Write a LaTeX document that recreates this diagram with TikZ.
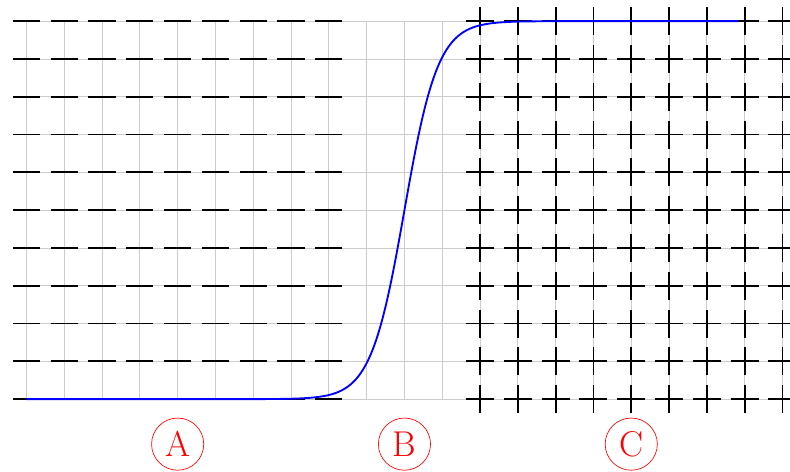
\documentclass[tikz,border=0pt]{standalone}
\usetikzlibrary{positioning}
\tikzset{
  markstroke/.style={black, line width=1.4pt},
  zonelabel/.style={circle, draw=red, text=red, line width=0.5pt, minimum size=1.38cm, inner sep=0pt, font=\fontsize{27}{30}\selectfont}
}
\begin{document}
\begin{tikzpicture}
  \useasboundingbox (-0.70,-1.91) rectangle (20.20,10.56);
  % background grid
  \draw[gray!40, line width=0.6pt] (0,0) grid (20,10);
  % minus marks (left zone)
  \foreach \x in {0,...,8}
    \foreach \y in {0,...,10}
      \draw[markstroke] (\x-0.36,\y) -- (\x+0.36,\y);
  % plus marks (right zone)
  \foreach \x in {12,...,20}
    \foreach \y in {0,...,10} {
      \draw[markstroke] (\x-0.37,\y) -- (\x+0.37,\y);
      \draw[markstroke] (\x,\y-0.37) -- (\x,\y+0.37);
    }
  % step curve
  \draw[blue, line width=1.4pt, domain=0:18.82, samples=240, smooth]
    plot (\x, {(\x<10) ? 10*exp(-2.25*abs(\x-10))/(1+exp(-2.25*abs(\x-10))) : 10/(1+exp(-2.25*abs(\x-10)))});
  % zone labels
  \node[zonelabel] (zoneA) at (4,-1.19) {A};
  \node[zonelabel] (zoneB) at (10,-1.19) {B};
  \node[zonelabel] (zoneC) at (16,-1.19) {C};
\end{tikzpicture}
\end{document}
